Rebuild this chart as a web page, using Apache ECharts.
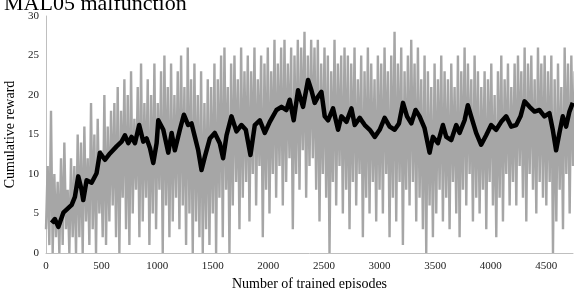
<!DOCTYPE html>
<html>
<head>
<meta charset="utf-8">
<script src="https://cdn.jsdelivr.net/npm/echarts@6/dist/echarts.min.js"></script>
<style>
  html, body { margin: 0; padding: 0; background: #fff; }
  #main { width: 574px; height: 289px; }
</style>
</head>
<body>
<div id="main"></div>
<script>
var rawStep = 15;
var rawReward = [
  3, 11, 1, 18, 0, 10, 2, 9, 0, 12, 1, 14, 3, 8, 0, 12, 2, 11, 0, 15,
  2, 14, 0, 16, 4, 12, 1, 19, 3, 15, 0, 17, 5, 13, 2, 20, 1, 16, 4, 18,
  6, 19, 2, 21, 0, 18, 7, 22, 3, 20, 1, 23, 5, 17, 8, 21, 2, 24, 4, 19,
  7, 22, 1, 20, 5, 24, 3, 19, 8, 23, 0, 25, 6, 21, 2, 24, 4, 20, 7, 23,
  3, 25, 6, 21, 1, 26, 5, 22, 0, 24, 4, 20, 2, 23, 0, 19, 3, 22, 1, 21,
  5, 24, 0, 22, 7, 25, 2, 26, 8, 21, 0, 24, 6, 25, 9, 22, 3, 26, 7, 23,
  9, 25, 4, 23, 10, 26, 6, 22, 11, 25, 2, 24, 8, 26, 5, 23, 10, 27, 7, 24,
  11, 26, 6, 27, 9, 24, 12, 26, 3, 25, 10, 27, 8, 26, 13, 28, 7, 25, 11, 27,
  12, 26, 8, 27, 4, 24, 10, 26, 7, 25, 0, 23, 9, 27, 6, 24, 11, 25, 5, 26,
  8, 25, 3, 24, 9, 26, 6, 22, 10, 25, 2, 23, 7, 26, 5, 24, 9, 22, 4, 25,
  8, 24, 5, 26, 10, 23, 2, 25, 7, 28, 4, 24, 9, 26, 1, 23, 8, 25, 6, 27,
  9, 24, 4, 26, 7, 22, 3, 25, 0, 23, 6, 21, 2, 24, 5, 22, 8, 25, 4, 23,
  7, 22, 3, 24, 9, 21, 5, 25, 2, 23, 8, 26, 6, 24, 10, 22, 4, 25, 7, 23,
  5, 21, 8, 23, 3, 22, 9, 24, 6, 20, 2, 23, 7, 25, 4, 22, 10, 24, 6, 21,
  9, 24, 6, 25, 11, 23, 7, 26, 4, 24, 10, 25, 8, 22, 5, 26, 9, 24, 7, 25,
  6, 23, 9, 25, 0, 22, 4, 24, 8, 21, 3, 26, 10, 24, 5, 25, 11, 23, 7, 26
];

// moving average (black line)
var avgEpisode = [
  51, 80, 111, 156, 231, 260, 290, 320, 335, 365, 410, 455, 485, 530, 575, 635, 680, 710, 740, 770,
  800, 838, 875, 905, 935, 965, 995, 1010, 1055, 1100, 1130, 1159, 1204, 1240, 1279, 1309, 1339, 1369, 1399, 1429,
  1474, 1518, 1563, 1593, 1624, 1668, 1713, 1758, 1797, 1839, 1878, 1923, 1968, 2013, 2073, 2118, 2162, 2192, 2228, 2267,
  2312, 2357, 2387, 2417, 2447, 2477, 2507, 2537, 2582, 2627, 2657, 2702, 2747, 2777, 2822, 2867, 2912, 2957, 3001, 3046,
  3091, 3136, 3175, 3211, 3247, 3286, 3324, 3360, 3405, 3450, 3480, 3525, 3570, 3600, 3645, 3690, 3720, 3765, 3794, 3824,
  3869, 3914, 3959, 4004, 4049, 4094, 4139, 4184, 4229, 4268, 4304, 4349, 4394, 4438, 4483, 4528, 4558, 4588, 4618, 4648,
  4678, 4708, 4738
];
var avgReward = [
  3.8, 4.3, 3.3, 5.1, 6.1, 7.1, 9.7, 8.0, 6.7, 9.2, 8.9, 10.1, 12.7, 11.8, 12.6, 13.5, 14.1, 14.9, 13.9, 14.7,
  13.9, 16.2, 14.1, 14.5, 13.3, 11.4, 13.9, 16.8, 15.6, 12.7, 15.2, 13.0, 15.6, 17.5, 16.2, 16.4, 14.7, 13.0, 10.5, 12.2,
  14.5, 15.2, 13.9, 12.0, 14.9, 17.3, 15.4, 16.2, 15.6, 12.4, 16.2, 16.8, 15.2, 16.6, 18.1, 18.5, 18.1, 19.4, 16.8, 20.6,
  18.5, 21.9, 20.6, 19.0, 19.8, 20.4, 17.3, 16.8, 18.3, 15.6, 17.3, 16.6, 18.3, 16.2, 17.1, 16.2, 15.6, 14.7, 15.6, 17.1,
  16.0, 15.6, 16.4, 19.0, 17.3, 16.4, 18.1, 17.3, 15.8, 12.7, 14.7, 13.9, 16.2, 14.7, 14.3, 16.2, 15.2, 16.8, 18.7, 17.3,
  15.2, 13.7, 14.9, 16.2, 15.6, 16.6, 17.3, 16.0, 16.2, 17.3, 19.2, 18.5, 17.9, 18.1, 17.3, 17.7, 15.6, 13.0, 15.2, 17.3,
  16.0, 17.9, 19.0
];

var yTicks = [0, 5, 10, 15, 20, 25, 30];
var xTicks = [0, 500, 1000, 1500, 2000, 2500, 3000, 3500, 4000, 4500];

var rawData = rawReward.map(function (v, i) { return [i * rawStep, v]; });
var avgData = avgEpisode.map(function (e, i) { return [e, avgReward[i]]; });

var serif = '"Liberation Serif", "DejaVu Serif", serif';
var myChart = echarts.init(document.getElementById('main'));
var option = {
  animation: false,
  title: {
    text: 'MAL05 malfunction',
    left: -1,
    top: -12,
    textStyle: { fontFamily: serif, fontSize: 22, fontWeight: 'normal', color: '#000' }
  },
  grid: { left: 46, right: 1, top: 16, bottom: 36, containLabel: false, outerBoundsMode: 'none' },
  xAxis: {
    type: 'value',
    min: 0,
    max: 4740,
    interval: 500,
    name: 'Number of trained episodes',
    nameLocation: 'middle',
    nameGap: 17,
    nameTextStyle: { fontFamily: serif, fontSize: 14, color: '#000' },
    axisLine: { lineStyle: { color: '#bfbfbf', width: 1 } },
    axisTick: { show: false },
    splitLine: { show: false },
    axisLabel: {
      fontFamily: serif, fontSize: 11, color: '#222', margin: 8,
      showMaxLabel: false,
      formatter: function (v) { return xTicks.indexOf(v) >= 0 ? String(v) : ''; }
    }
  },
  yAxis: {
    type: 'value',
    min: 0,
    max: 30,
    interval: 5,
    name: 'Cumulative reward',
    nameLocation: 'middle',
    nameGap: 18,
    nameTextStyle: { fontFamily: serif, fontSize: 14, color: '#000' },
    axisLine: { show: true, lineStyle: { color: '#bfbfbf', width: 1 } },
    axisTick: { show: false },
    splitLine: { show: false },
    axisLabel: {
      fontFamily: serif, fontSize: 11, color: '#222', margin: 7,
      formatter: function (v) { return yTicks.indexOf(v) >= 0 ? String(v) : ''; }
    }
  },
  series: [
    {
      type: 'line',
      data: rawData,
      showSymbol: false,
      lineStyle: { color: '#a6a6a6', width: 2.4 },
      silent: true,
      z: 1
    },
    {
      type: 'line',
      data: avgData,
      showSymbol: false,
      lineStyle: { color: '#000', width: 4.5, join: 'round' },
      silent: true,
      z: 2
    }
  ]
};
myChart.setOption(option);
</script>
</body>
</html>
